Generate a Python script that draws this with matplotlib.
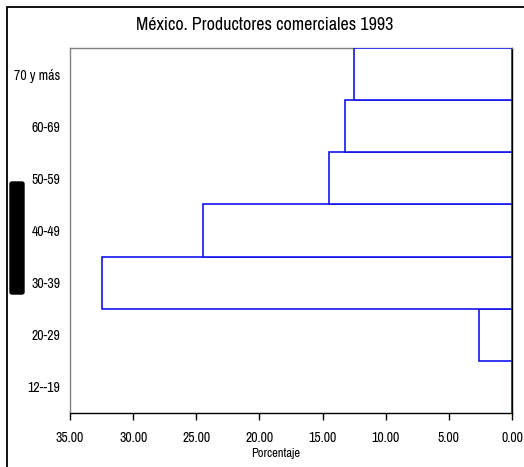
import matplotlib
matplotlib.use("Agg")
import matplotlib.pyplot as plt
from matplotlib import font_manager
from matplotlib.patches import Rectangle, FancyBboxPatch

categories = ["12--19", "20-29", "30-39", "40-49", "50-59", "60-69", "70 y más"]
values = [0.0, 2.6, 32.5, 24.5, 14.5, 13.2, 12.5]
xticks = [35, 30, 25, 20, 15, 10, 5, 0]
title = "México. Productores comerciales 1993"
xlabel = "Porcentaje"

names = {f.name for f in font_manager.fontManager.ttflist}
fam = "Archivo Narrow" if "Archivo Narrow" in names else "Liberation Sans"
plt.rcParams["font.family"] = [fam, "DejaVu Sans"]

W, H = 524, 467
fig = plt.figure(figsize=(W / 100, H / 100), dpi=100)
ax = fig.add_axes([70 / W, 1 - 413 / H, 442 / W, 365 / H])

ypos = list(range(len(categories)))
ax.barh(ypos, values, height=1.0, color="white", edgecolor="#1414ee", linewidth=1.2, zorder=3)
ax.set_xlim(35, 0)
ax.set_ylim(-0.5, len(categories) - 0.5)
ax.set_yticks(ypos)
ax.set_yticklabels(categories, fontsize=10)
ax.tick_params(axis="y", length=0, pad=7)
ax.set_xticks(xticks)
ax.set_xticklabels([f"{v:.2f}" for v in xticks], fontsize=10)
ax.tick_params(axis="x", length=5, width=1, direction="out", pad=8, color="black")
ax.spines["left"].set_color("#808080")
ax.spines["top"].set_color("#808080")
ax.spines["right"].set_color("black")
ax.spines["bottom"].set_color("black")
for s in ax.spines.values():
    s.set_linewidth(1.0)
ax.set_xlabel(xlabel, fontsize=9, labelpad=1)
ax.xaxis.set_label_coords(206 / 442, -0.095)

fig.text(265 / W, 1 - 25 / H, title, ha="center", va="center", fontsize=13)

# figure border (right and bottom edges fall outside the image)
fig.patches.append(Rectangle((7 / W, -0.05), 1.0, 1 - 7 / H + 0.05, transform=fig.transFigure,
                             fill=False, edgecolor="black", linewidth=1.3))
# black block on the left
fig.patches.append(FancyBboxPatch((10 / W, 1 - 294 / H), 14 / W, 112 / H, boxstyle="round,pad=0,rounding_size=0.004",
                                  transform=fig.transFigure, facecolor="black", edgecolor="black"))

fig.savefig("out.png", dpi=100)
